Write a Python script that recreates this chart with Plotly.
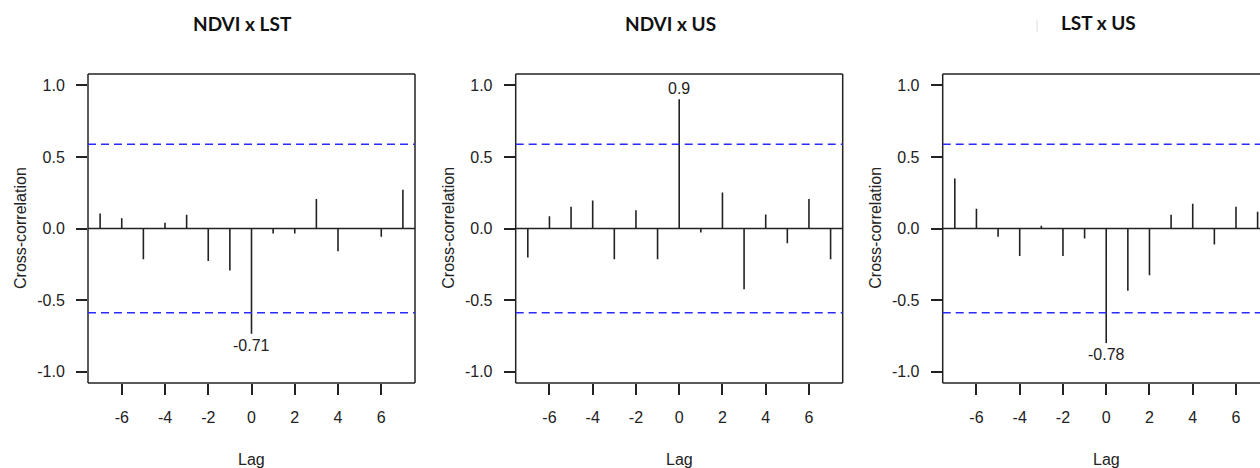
import plotly.graph_objects as go

# ---- data ----
lags = list(range(-7, 8))
ndvi_lst = [0.105, 0.072, -0.215, 0.040, 0.096, -0.227, -0.294, -0.736,
            -0.035, -0.035, 0.206, -0.159, 0.003, -0.058, 0.271]
ndvi_us = [-0.203, 0.086, 0.152, 0.196, -0.215, 0.128, -0.215, 0.904,
           -0.028, 0.252, -0.425, 0.098, -0.103, 0.206, -0.215]
lst_us = [0.350, 0.138, -0.058, -0.192, 0.019, -0.192, -0.070, -0.801,
          -0.435, -0.327, 0.096, 0.173, -0.112, 0.152, 0.117]
titles = ["NDVI x LST", "NDVI x US", "LST x US"]
peak_labels = ["-0.71", "0.9", "-0.78"]
peak_lag = [0, 0, 0]
ci = 0.589
x_ticks = [-6, -4, -2, 0, 2, 4, 6]
x_tick_text = ["-6", "-4", "-2", "0", "2", "4", "6"]
y_ticks = [-1.0, -0.5, 0.0, 0.5, 1.0]
y_tick_text = ["-1.0", "-0.5", "0.0", "0.5", "1.0"]
x_title = "Lag"
y_title = "Cross-correlation"

series = [ndvi_lst, ndvi_us, lst_us]

W, H = 1260, 468
x_dom_px = [(88, 415), (515.7, 842.7), (942.7, 1260)]
x_ranges = [[-7.56, 7.56], [-7.56, 7.56], [-7.56, 7.11]]
y_top_px, y_bot_px = 74, 383
y_dom = [1 - y_bot_px / H, 1 - y_top_px / H]

INK = "#222222"
TICKFONT = dict(family="Liberation Sans, Arial, sans-serif", size=16, color=INK)

fig = go.Figure()

for i, vals in enumerate(series):
    n = "" if i == 0 else str(i + 1)
    xs, ys = [], []
    for lag, v in zip(lags, vals):
        xs += [lag, lag, None]
        ys += [0, v, None]
    fig.add_trace(go.Scatter(x=xs, y=ys, mode="lines",
                             line=dict(color=INK, width=1.6),
                             xaxis="x" + n, yaxis="y" + n,
                             showlegend=False, hoverinfo="skip"))

    d0, d1 = x_dom_px[i]
    fig.update_layout(**{
        "xaxis" + n: dict(domain=[d0 / W, d1 / W], range=x_ranges[i],
                          tickvals=x_ticks, ticktext=x_tick_text,
                          ticks="outside", ticklen=11,
                          tickwidth=1.5, tickcolor=INK, showgrid=False,
                          zeroline=False, showline=False, tickfont=TICKFONT,
                          ticklabelstandoff=9, automargin=False,
                          anchor="y" + n),
        "yaxis" + n: dict(domain=y_dom, range=[-1.08, 1.08],
                          tickvals=y_ticks, ticktext=y_tick_text,
                          ticks="outside", ticklen=11, tickwidth=1.5,
                          tickcolor=INK, showgrid=False, zeroline=False,
                          showline=False, tickfont=TICKFONT,
                          ticklabelstandoff=8, automargin=False,
                          anchor="x" + n),
    })

    xd = "x" + n + " domain"
    yd = "y" + n + " domain"
    # box (top, bottom, left, right except for clipped third panel)
    box = [(0, 1, 1, 1), (0, 0, 1, 0), (0, 0, 0, 1)]
    if i < 2:
        box.append((1, 0, 1, 1))
    for (x0, y0, x1, y1) in box:
        fig.add_shape(type="line", xref=xd, yref=yd, x0=x0, y0=y0, x1=x1, y1=y1,
                      line=dict(color=INK, width=1.5))
    # zero line
    fig.add_shape(type="line", xref=xd, yref="y" + n, x0=0, x1=1, y0=0, y1=0,
                  line=dict(color=INK, width=1.5))
    # confidence bounds
    for c in (ci, -ci):
        fig.add_shape(type="line", xref=xd, yref="y" + n, x0=0, x1=1, y0=c, y1=c,
                      line=dict(color="#2b2bff", width=1.5, dash="8px,5px"))

    # peak label
    pv = vals[lags.index(peak_lag[i])]
    fig.add_annotation(x=peak_lag[i], y=pv, xref="x" + n, yref="y" + n,
                       text=peak_labels[i], showarrow=False,
                       yanchor="top" if pv < 0 else "bottom",
                       yshift=-1 if pv < 0 else 0,
                       font=TICKFONT)

    # axis titles
    lag0_px = d0 + (0 - x_ranges[i][0]) / (x_ranges[i][1] - x_ranges[i][0]) * (d1 - d0)
    fig.add_annotation(x=lag0_px / W, y=1 - 459 / H, xref="paper", yref="paper",
                       text=x_title, showarrow=False, xanchor="center",
                       yanchor="middle", font=TICKFONT)
    fig.add_annotation(x=(d0 - 68) / W, y=1 - 228 / H, xref="paper", yref="paper",
                       text=y_title, showarrow=False, textangle=-90,
                       xanchor="center", yanchor="middle", font=TICKFONT)

# panel titles
title_pos = [(242, 23), (670, 23), (1098, 22)]
for t, (px, py) in zip(titles, title_pos):
    fig.add_annotation(x=px / W, y=1 - py / H, xref="paper", yref="paper",
                       text="<b>" + t + "</b>", showarrow=False,
                       xanchor="center", yanchor="middle",
                       font=dict(family="Lato, Open Sans, sans-serif", size=19,
                                 color="#111111"))

# faint mark left of third title
fig.add_shape(type="line", xref="paper", yref="paper",
              x0=1037 / W, x1=1037 / W, y0=1 - 32 / H, y1=1 - 20 / H,
              line=dict(color="#dddddd", width=1))

fig.update_layout(width=W, height=H, margin=dict(l=0, r=0, t=0, b=0),
                  paper_bgcolor="white", plot_bgcolor="white",
                  showlegend=False)

fig.write_html("out.html",
               config={"displayModeBar": False},
               post_script="document.body.style.margin='0';"
                           "document.body.style.overflow='hidden';")
